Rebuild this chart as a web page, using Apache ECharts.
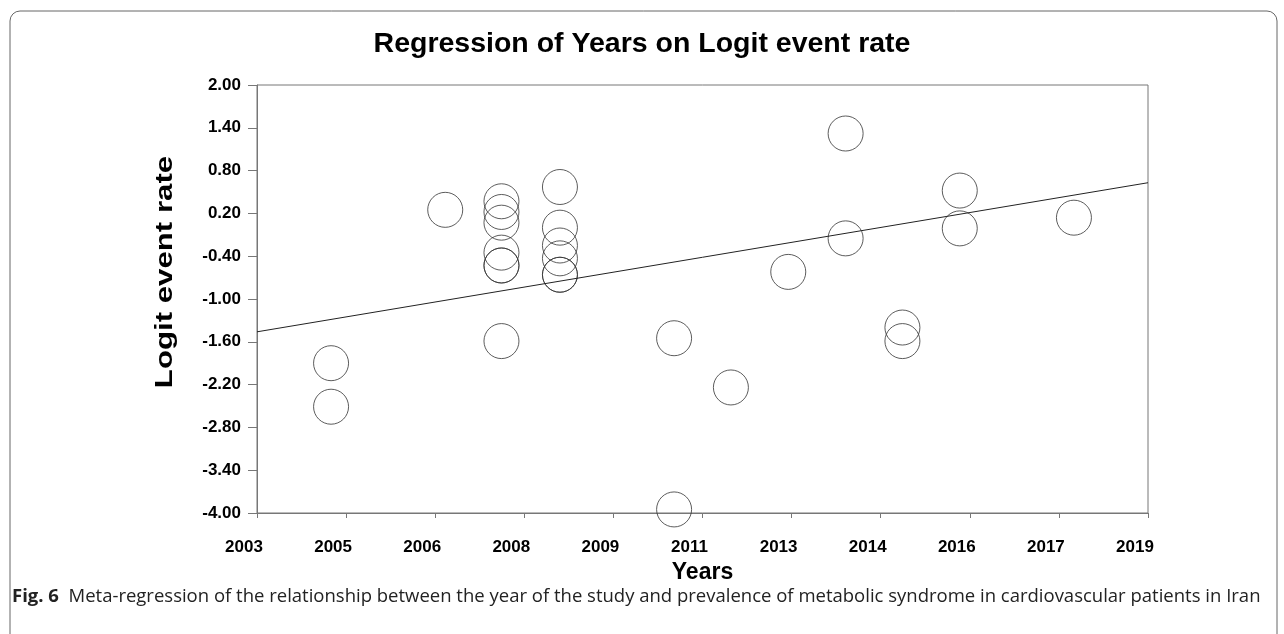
<!DOCTYPE html>
<html>
<head>
<meta charset="utf-8">
<script src="https://cdn.jsdelivr.net/npm/echarts@6/dist/echarts.min.js"></script>
<style>
  html, body { margin: 0; padding: 0; background: #fff; }
  #chart { width: 1284px; height: 634px; }
</style>
</head>
<body>
<div id="chart"></div>
<script>
// study points (year, logit event rate)
const studyYears = [
  2004.33, 2004.33,
  2006.38,
  2007.39, 2007.39, 2007.39, 2007.39, 2007.39, 2007.39, 2007.39,
  2008.44, 2008.44, 2008.44, 2008.44, 2008.44, 2008.44,
  2010.49, 2010.49,
  2011.51,
  2012.54,
  2013.57, 2013.57,
  2014.59, 2014.59,
  2015.62, 2015.62,
  2017.67
];
const logitRates = [
  -1.90, -2.51,
  0.25,
  0.37, 0.22, 0.07, -0.35, -0.53, -0.53, -1.59,
  0.57, 0.00, -0.25, -0.43, -0.66, -0.66,
  -1.55, -3.95,
  -2.24,
  -0.62,
  1.32, -0.15,
  -1.40, -1.59,
  0.52, -0.01,
  0.14
];
// regression line end points
const fitYears = [2003, 2019];
const fitRates = [-1.46, 0.63];

const chart = echarts.init(document.getElementById('chart'));

const boldFont = '"Liberation Sans", Arial, sans-serif';

const option = {
  animation: false,
  title: {
    text: 'Regression of Years on Logit event rate',
    left: 'center',
    top: 25,
    textStyle: { fontFamily: boldFont, fontWeight: 'bold', fontSize: 28.5, color: '#000' }
  },
  grid: {
    left: 257, right: 136, top: 85, bottom: 121,
    show: true, borderColor: '#777', borderWidth: 1
  },
  xAxis: {
    type: 'value',
    min: 2003, max: 2019, interval: 1.6,
    name: 'Years',
    nameLocation: 'middle',
    nameGap: 44,
    nameTextStyle: { fontFamily: boldFont, fontWeight: 'bold', fontSize: 23, color: '#000' },
    axisLine: { show: true, onZero: false, lineStyle: { color: '#777', width: 1 } },
    axisTick: { show: true, length: 5, lineStyle: { color: '#777' } },
    splitLine: { show: false },
    axisLabel: {
      margin: 26,
      padding: [0, 26, 0, 0],
      fontFamily: boldFont, fontWeight: 'bold', fontSize: 17, color: '#000',
      showMinLabel: true, showMaxLabel: true,
      formatter: v => String(Math.round(v))
    }
  },
  yAxis: {
    type: 'value',
    min: -4, max: 2, interval: 0.6,
    axisLine: { show: true, onZero: false, lineStyle: { color: '#777', width: 1 } },
    axisTick: { show: true, length: 9, lineStyle: { color: '#777' } },
    splitLine: { show: false },
    axisLabel: {
      margin: 16,
      fontFamily: boldFont, fontWeight: 'bold', fontSize: 17, color: '#000',
      showMinLabel: true, showMaxLabel: true,
      formatter: v => v.toFixed(2)
    }
  },
  graphic: [
    {
      type: 'rect',
      shape: { x: 10, y: 11, width: 1267, height: 660, r: 10 },
      style: { fill: 'none', stroke: '#666', lineWidth: 1 },
      silent: true
    },
    {
      type: 'text',
      x: 165, y: 272,
      rotation: Math.PI / 2,
      scaleX: 1.3,
      style: {
        text: 'Logit event rate',
        font: 'bold 24px "Liberation Sans", Arial, sans-serif',
        fill: '#000', align: 'center', verticalAlign: 'middle'
      }
    },
    {
      type: 'text',
      x: 12, y: 597,
      style: {
        text: '{b|Fig. 6}  Meta-regression of the relationship between the year of the study and prevalence of metabolic syndrome in cardiovascular patients in Iran',
        font: '18.5px "Open Sans", sans-serif',
        fill: '#222', verticalAlign: 'middle',
        rich: {
          b: { fontFamily: '"Open Sans", sans-serif', fontWeight: 'bold', fontSize: 18.5, fill: '#222' }
        }
      }
    }
  ],
  series: [
    {
      name: 'Studies',
      type: 'scatter',
      symbol: 'circle',
      symbolSize: 35,
      itemStyle: { color: 'rgba(0,0,0,0)', borderColor: '#333', borderWidth: 1 },
      data: studyYears.map((y, i) => [y, logitRates[i]])
    },
    {
      name: 'Regression',
      type: 'line',
      symbol: 'none',
      lineStyle: { color: '#222', width: 1 },
      data: fitYears.map((y, i) => [y, fitRates[i]])
    }
  ]
};

chart.setOption(option);
</script>
</body>
</html>
